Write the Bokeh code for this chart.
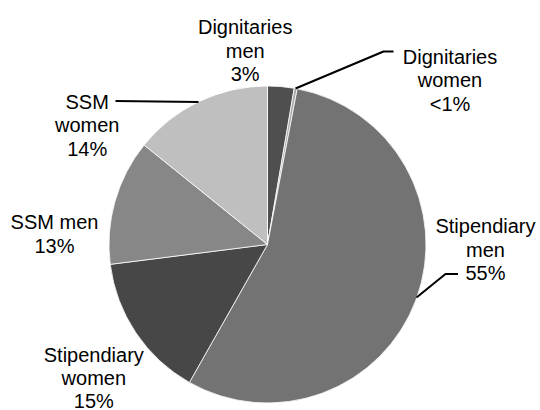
import math
from bokeh.plotting import figure
from bokeh.models import ColumnDataSource, Range1d
from bokeh.core.properties import value
from bokeh.embed import file_html
from bokeh.resources import INLINE

# ---- data ----
categories = ["Dignitaries men", "Dignitaries women", "Stipendiary men",
              "Stipendiary women", "SSM men", "SSM women"]
shares = [2.7, 0.3, 55.2, 14.8, 12.8, 14.2]
pct_labels = ["3%", "<1%", "55%", "15%", "13%", "14%"]
label_lines = [["Dignitaries", "men"], ["Dignitaries", "women"],
               ["Stipendiary", "men"], ["Stipendiary", "women"],
               ["SSM men"], ["SSM", "women"]]
colors = ["#4f4f4f", "#a8a8a8", "#737373", "#474747", "#878787", "#bfbfbf"]

# ---- layout (picture pixel coordinates; y measured downward) ----
W, H = 540, 410
cx, cy, R = 267, 244, 158.5
label_pos = [(244.7, 26.5), (449.5, 56), (485, 225.5),
             (93.3, 354), (54, 221.5), (86.7, 101)]
line_steps = [23.6, 23.6, 23.6, 23.0, 23.6, 23.6]
leaders = [None,
           [(295, 88), (383, 51), (393, 51)],
           [(416, 297), (445, 273.5), (457.5, 273.5)],
           None, None,
           [(115, 100.5), (198, 101.5)]]

def Y(page_y):
    return H - page_y

p = figure(width=W, height=H, x_range=Range1d(0, W), y_range=Range1d(0, H),
           output_backend="svg", toolbar_location=None, min_border=0,
           outline_line_color=None, background_fill_color="white")
p.xaxis.visible = False
p.yaxis.visible = False
p.grid.visible = False

total = sum(shares)
starts, ends = [], []
cum = 0.0
for s in shares:
    starts.append(math.pi / 2 - 2 * math.pi * cum / total)
    cum += s
    ends.append(math.pi / 2 - 2 * math.pi * cum / total)

src = ColumnDataSource(dict(x=[cx] * len(shares), y=[Y(cy)] * len(shares),
                            start=starts, end=ends, color=colors, cat=categories))
p.wedge(x="x", y="y", radius=R, start_angle="start", end_angle="end",
        direction="clock", fill_color="color", line_color="white",
        line_width=0.8, source=src)

for ld in leaders:
    if ld:
        p.line([a for a, b in ld], [Y(b) for a, b in ld], line_color="black", line_width=2)

tx, ty, tt = [], [], []
for (lx, ly), step, lines, pct in zip(label_pos, line_steps, label_lines, pct_labels):
    for k, t in enumerate(lines + [pct]):
        tx.append(lx)
        ty.append(Y(ly + k * step))
        tt.append(t)
p.text(x=tx, y=ty, text=tt, text_align="center", text_baseline="alphabetic",
       text_font=value("Liberation Sans"), text_font_size="20px", text_color="black")

open("out.html", "w").write(file_html(p, INLINE))
